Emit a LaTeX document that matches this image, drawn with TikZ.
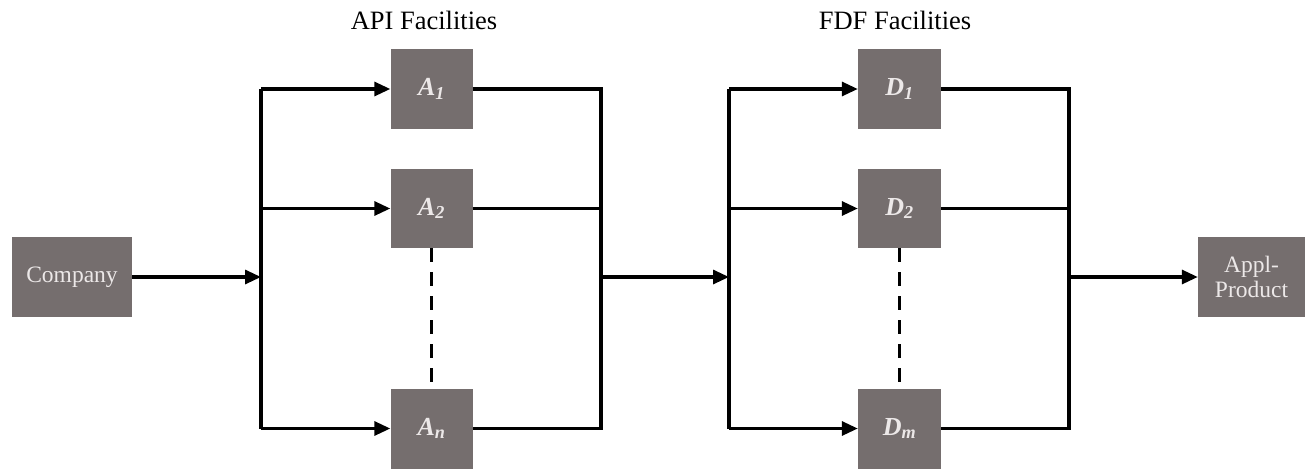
\documentclass[tikz,border=0pt]{standalone}
\usepackage{fontspec}
\setmainfont{Liberation Serif}
\usetikzlibrary{arrows.meta}
\definecolor{boxgray}{RGB}{117,110,110}
\definecolor{boxtext}{RGB}{236,232,232}
\begin{document}
\begin{tikzpicture}[x=1pt,y=-1pt,
  box/.style={draw=none,fill=boxgray,text=boxtext,inner sep=0pt,align=center,
    font=\fontsize{23.5}{24}\selectfont},
  fac/.style={box,minimum width=82pt,minimum height=80pt,
    font=\fontsize{26}{28}\selectfont\bfseries\itshape},
  ttl/.style={font=\fontsize{26.5}{30}\selectfont,inner sep=0pt},
  ln/.style={line width=3.2pt,line join=miter},
  arr/.style={ln,-{Triangle[length=16pt,width=14pt]}},
  dsh/.style={line width=3.2pt,dash pattern=on 14pt off 10pt}]
\useasboundingbox (0,0) rectangle (1305,469);
% boxes
\node[box,minimum width=120pt,minimum height=80pt] (company) at (72,277) {Company};
\node[fac] (A1) at (431.5,89) {A\textsubscript{1}};
\node[fac,minimum height=79pt] (A2) at (431.5,208.5) {A\textsubscript{2}};
\node[fac] (An) at (431.5,428.5) {A\textsubscript{n}};
\node[fac,minimum width=83pt] (D1) at (899.5,89) {D\textsubscript{1}};
\node[fac,minimum width=83pt,minimum height=79pt] (D2) at (899.5,208.5) {D\textsubscript{2}};
\node[fac,minimum width=83pt] (Dm) at (899.5,428.5) {D\textsubscript{m}};
\node[box,minimum width=107pt,minimum height=80pt,font=\fontsize{23.5}{25}\selectfont] (appl) at (1251.5,277) {Appl-\\Product};
% titles
\node[ttl] (t1) at (424,20) {API Facilities};
\node[ttl] (t2) at (895,20) {FDF Facilities};
% junction coordinates
\coordinate (s1) at (261,277);
\coordinate (m1) at (601,277);
\coordinate (s2) at (729,277);
\coordinate (m2) at (1069,277);
% company to first split
\draw[arr] (company.east) -- (s1);
% API split
\draw[ln] (A1.west -| s1) -- (An.west -| s1);
\draw[arr] (A1.west -| s1) -- (A1.west);
\draw[arr] (A2.west -| s1) -- (A2.west);
\draw[arr] (An.west -| s1) -- (An.west);
% API merge
\draw[ln] (A1.east) -- (A1.east -| m1) -- (An.east -| m1) -- (An.east);
\draw[ln] (A2.east) -- (A2.east -| m1);
\draw[dsh] (A2.south) -- (An.north);
% link
\draw[arr] (m1) -- (s2);
% FDF split
\draw[ln] (D1.west -| s2) -- (Dm.west -| s2);
\draw[arr] (D1.west -| s2) -- (D1.west);
\draw[arr] (D2.west -| s2) -- (D2.west);
\draw[arr] (Dm.west -| s2) -- (Dm.west);
% FDF merge
\draw[ln] (D1.east) -- (D1.east -| m2) -- (Dm.east -| m2) -- (Dm.east);
\draw[ln] (D2.east) -- (D2.east -| m2);
\draw[dsh] (D2.south) -- (Dm.north);
% to product
\draw[arr] (m2) -- (appl.west);
\end{tikzpicture}
\end{document}
